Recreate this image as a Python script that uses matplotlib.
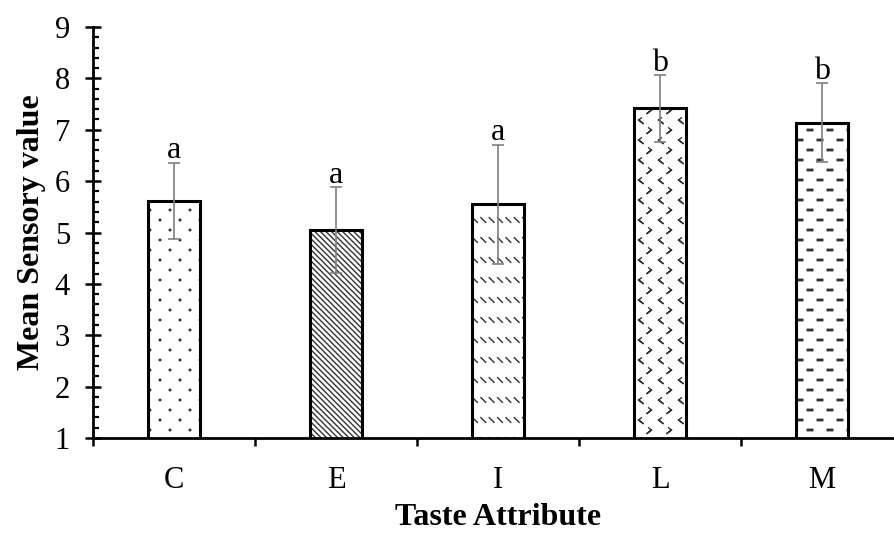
import warnings
warnings.filterwarnings("ignore")
import numpy as np
import matplotlib
matplotlib.use("Agg")
import matplotlib.pyplot as plt
from matplotlib import hatch as mhatch
from matplotlib.path import Path
from matplotlib.ticker import MultipleLocator

# ---------------- data ----------------
categories = ["C", "E", "I", "L", "M"]
means = [5.62, 5.05, 5.55, 7.42, 7.14]
errors = [0.74, 0.84, 1.16, 0.65, 0.77]
letters = ["a", "a", "a", "b", "b"]
y_ticks = [1, 2, 3, 4, 5, 6, 7, 8, 9]

# ---------------- custom hatch textures ----------------
class LatticeHatch(mhatch.HatchPatternBase):
    char = None
    ncols = 5
    nrows = 10
    stagger = True

    def shape(self, row):
        raise NotImplementedError

    def __init__(self, hatch, density):
        self.num_vertices = 0
        if not hatch or self.char not in hatch:
            return
        vlist, clist = [], []
        dx = 1.0 / self.ncols
        dy = 1.0 / self.nrows
        for r in range(self.nrows + 1):
            if self.stagger and r % 2 == 1:
                cols = (np.arange(self.ncols) + 0.5) * dx
            else:
                cols = np.arange(self.ncols + 1) * dx
            sv, sc = self.shape(r)
            for cx in cols:
                vlist.append(sv + np.array([cx, r * dy]))
                clist.append(sc)
        self._v = np.concatenate(vlist)
        self._c = np.concatenate(clist)
        self.num_vertices = len(self._v)

    def set_vertices_and_codes(self, vertices, codes):
        vertices[:] = self._v
        codes[:] = self._c


class DotHatch(LatticeHatch):
    char = "d"
    def shape(self, row):
        c = Path.unit_circle()
        return c.vertices * 0.008, c.codes


class DashDiagHatch(LatticeHatch):
    char = "k"
    ncols = 12
    nrows = 5
    stagger = False
    def shape(self, row):
        a = 0.024
        return (np.array([[-a, a], [a, -a]]),
                np.array([Path.MOVETO, Path.LINETO], dtype=Path.code_type))


class ChevronHatch(LatticeHatch):
    char = "v"
    def shape(self, row):
        w, h = 0.014, 0.022
        if row % 2 == 0:
            pts = [[w, h], [-w, 0], [w, -h], [-w, 0]]
        else:
            pts = [[-w, h], [w, 0], [-w, -h], [w, 0]]
        return (np.array(pts, float),
                np.array([Path.MOVETO, Path.LINETO, Path.LINETO, Path.LINETO],
                         dtype=Path.code_type))


class DashHatch(LatticeHatch):
    char = "m"
    def shape(self, row):
        w, h = 0.028, 0.007
        return (np.array([[-w, -h], [w, -h], [w, h], [-w, h], [-w, -h]]),
                np.array([Path.MOVETO, Path.LINETO, Path.LINETO, Path.LINETO,
                          Path.CLOSEPOLY], dtype=Path.code_type))


mhatch._hatch_types.extend([DotHatch, DashDiagHatch, ChevronHatch, DashHatch])

hatches = ["d", "\\" * 6, "k", "v", "m"]

# ---------------- style ----------------
plt.rcParams["font.family"] = ["Liberation Serif", "DejaVu Serif"]
plt.rcParams["hatch.linewidth"] = 1.0
plt.rcParams["axes.linewidth"] = 2.0

fig = plt.figure(figsize=(8.95, 5.34), dpi=100)
ax = fig.add_axes([93 / 895, 96 / 534, 810 / 895, 411 / 534])

x = np.arange(len(categories))
bar_w = 0.32
hatch_col = "#333333"

for xi, m, h in zip(x, means, hatches):
    ax.bar(xi, m, width=bar_w, color="white", edgecolor=hatch_col,
           linewidth=0, hatch=h, zorder=1)
ax.bar(x, means, width=bar_w, fill=False, edgecolor="black",
       linewidth=2.2, zorder=2)

ax.errorbar(x, means, yerr=errors, fmt="none", ecolor="#7f7f7f",
            elinewidth=1.2, capsize=4.3, capthick=1.2, zorder=3)

for xi, m, e, t in zip(x, means, errors, letters):
    ax.annotate(t, (xi, m + e), xytext=(0, 3), textcoords="offset points",
                ha="center", va="baseline", fontsize=23)

ax.set_ylim(1, 9)
ax.set_xlim(-0.5, 4.5)
ax.set_yticks(y_ticks)
ax.set_yticklabels([str(v) for v in y_ticks], fontsize=22)
ax.yaxis.set_minor_locator(MultipleLocator(0.2))
ax.tick_params(axis="y", which="major", direction="inout", length=11,
               width=1.8, pad=11)
ax.tick_params(axis="y", which="minor", direction="in", length=4.5,
               width=1.6)

ax.set_xticks(np.arange(-0.5, len(categories), 1.0))
ax.set_xticklabels([])
ax.set_xticks(x, categories, minor=True, fontsize=22)
ax.tick_params(axis="x", which="major", direction="out", length=6,
               width=1.8)
ax.tick_params(axis="x", which="minor", length=0, pad=20)

ax.spines["top"].set_visible(False)
ax.spines["right"].set_visible(False)

ax.set_xlabel("Taste Attribute", fontsize=23, fontweight="bold", labelpad=6)
ax.set_ylabel("Mean Sensory value", fontsize=23, fontweight="bold",
              labelpad=6)

fig.savefig("out.png", dpi=100)
